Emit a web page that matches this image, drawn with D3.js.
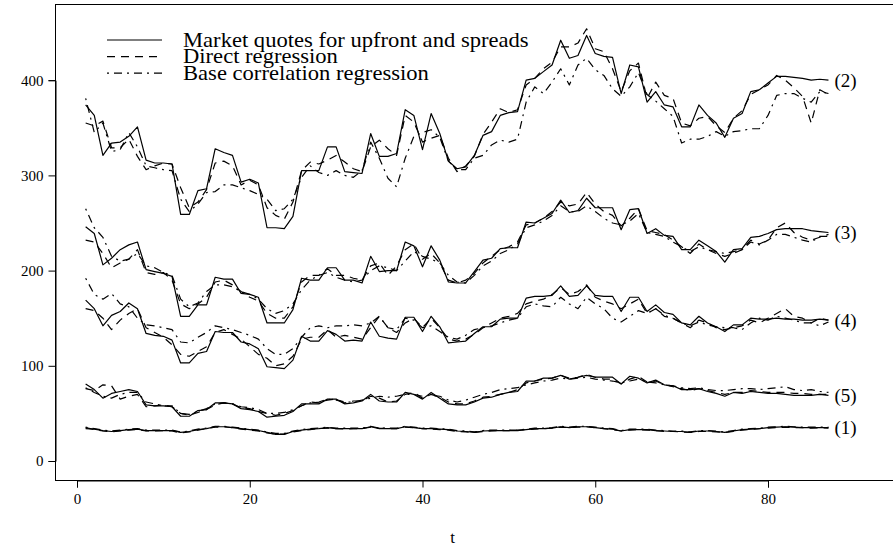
<!DOCTYPE html>
<html>
<head>
<meta charset="utf-8">
<script src="https://cdn.jsdelivr.net/npm/d3@7"></script>
<style>
  html, body { margin: 0; padding: 0; background: #fff; }
  svg { display: block; }
  text { font-family: "Liberation Serif", "Times New Roman", serif; fill: #000; }
</style>
</head>
<body>
<svg id="chart" width="893" height="550"></svg>
<script>
// time index
const t = d3.range(1, 88);

// Tranche (2)
const g2Market = [374,363,321,334,335,341,351,316,313,313, 312,259,259,284,286,328,324,321,293,296,
  292,245,245,244,257,305,305,305,330,330, 304,303,302,344,320,320,323,369,363,327,
  365,344,315,307,309,321,342,346,363,366, 367,400,402,409,416,442,423,426,447,428,
  425,424,386,416,414,377,388,374,372,351, 351,374,363,355,340,360,365,388,390,397,
  404,404,403,402,400,401,400];
const g2Direct = [355,352,357,329,329,338,320,306,310,313, 312,287,266,272,285,313,315,310,290,295,
  290,266,258,254,272,305,314,312,316,321, 314,307,304,330,337,328,321,363,356,335,
  339,342,318,304,310,320,343,356,370,366, 369,395,402,412,419,435,435,439,454,433,
  430,412,388,410,418,381,398,384,381,355, 352,360,362,352,345,360,368,385,390,395,
  405,400,392,383,355,390,385];
const g2BaseCorr = [381,345,355,325,327,345,330,310,308,306, 305,275,262,270,282,283,290,290,287,284,
  280,275,263,265,275,298,310,303,300,305, 300,298,305,335,318,297,288,318,341,345,
  348,340,315,306,306,318,321,332,337,335, 338,377,393,386,398,412,395,416,423,411,
  405,391,383,393,408,385,378,370,362,334, 338,338,341,346,341,346,347,349,349,363,
  384,386,386,381,377,388,386];

// Tranche (3)
const g3Market = [246,239,206,213,222,227,230,201,199,197, 194,152,152,164,164,193,191,191,176,175,
  172,145,145,145,159,192,190,190,203,203, 190,190,187,215,199,200,200,230,226,204,
  226,211,188,187,187,199,211,213,223,224, 224,251,250,255,260,274,261,263,276,266,
  266,266,243,264,265,239,244,237,236,222, 222,232,226,220,209,222,223,235,236,239,
  243,244,244,244,242,241,240];
const g3Direct = [232,230,218,203,208,212,222,198,196,198, 190,165,160,165,172,188,190,185,178,172,
  168,155,150,150,162,188,195,195,202,195, 195,192,190,205,208,195,205,222,228,212,
  218,208,190,187,190,197,208,215,222,225, 230,248,250,255,262,272,268,270,282,270,
  262,258,247,255,265,242,240,238,232,225, 218,228,222,218,215,218,222,232,228,232,
  245,250,240,235,232,235,238];
const g3BaseCorr = [265,245,235,215,210,212,218,205,203,198, 195,170,162,166,178,185,185,183,178,175,
  170,160,155,158,165,180,190,195,198,193, 190,188,190,200,205,203,200,210,220,215,
  212,208,195,188,187,195,205,210,218,222, 228,245,248,252,258,268,262,262,268,262,
  255,250,248,252,260,240,238,236,230,225, 220,225,222,220,218,220,222,230,227,232,
  238,238,235,232,230,236,236];

// Tranche (4)
const g4Market = [169,160,142,153,157,166,160,134,132,131, 127,103,103,113,115,136,135,135,125,123,
  118,99,98,97,106,131,126,126,137,133, 126,127,126,146,131,129,128,151,151,136,
  152,141,124,125,126,134,141,141,149,150, 150,171,173,173,174,184,173,174,184,174,
  173,173,157,172,172,157,164,156,154,145, 143,152,145,141,136,143,143,150,149,149,
  150,149,149,148,148,149,148];
const g4Direct = [160,158,150,138,148,155,160,140,135,130, 122,112,110,115,120,135,138,133,128,120,
  112,108,100,102,110,128,130,130,138,130, 132,130,128,140,152,140,135,145,150,140,
  150,140,128,126,128,133,140,145,150,152, 155,165,168,170,175,182,175,178,185,172,
  168,165,160,165,170,155,160,152,150,145, 140,148,145,140,138,140,142,148,145,150,
  155,160,152,150,145,150,148];
const g4BaseCorr = [192,175,170,176,165,162,150,143,142,140, 138,125,124,130,135,142,140,138,135,132,
  128,118,112,112,118,130,140,142,140,142, 142,143,142,145,152,140,138,150,148,140,
  142,136,130,128,132,138,140,142,145,148, 150,162,165,163,162,172,165,160,172,165,
  160,150,146,152,158,155,160,153,150,145, 142,146,143,141,140,140,138,145,150,148,
  152,150,148,145,145,142,146];

// Tranche (5)
const g5Market = [81,75,66,71,73,75,73,59,58,58, 57,47,47,53,54,61,61,60,55,54,
  52,46,47,48,52,60,60,60,65,65, 60,61,63,70,63,62,62,72,70,65,
  72,66,60,59,59,62,66,67,70,72, 73,84,84,87,87,90,86,88,90,88,
  88,88,81,89,87,82,85,80,79,75, 75,76,73,71,68,72,71,73,72,71,
  71,70,69,69,69,70,69];
const g5Direct = [76,74,80,79,65,68,70,57,58,59, 57,50,48,51,54,59,61,60,56,55,
  52,50,48,50,53,58,62,61,64,65, 61,63,63,68,66,62,63,70,72,66,
  70,67,62,60,60,63,67,68,70,72, 75,82,84,86,87,90,87,88,91,88,
  86,86,81,86,89,83,84,80,78,76, 74,76,74,72,70,72,72,74,73,72,
  72,72,71,71,70,70,70];
const g5BaseCorr = [77,72,68,66,70,72,72,62,60,58, 58,50,49,52,55,60,61,60,57,56,
  54,50,50,51,54,58,61,62,65,64, 62,62,64,66,68,67,68,70,70,68,
  69,68,64,62,64,67,70,72,75,76, 77,80,82,84,85,87,86,87,88,86,
  85,84,82,84,86,83,82,80,79,77, 76,77,75,74,74,75,76,76,75,76,
  77,78,75,74,75,73,72];

// Tranche (1)
const g1Market = [34,33.5,32,31,32,33,33.5,32,32,32, 32,30,31,33,34,36,36,35,34,33,
  32,30,28,28,31,32.5,33.5,34,35,34, 34,34,34,36,34,34,34,36,35,34,
  34,33.5,33,31.5,31,30,31.5,32,32,32, 32,33,34,34,34.5,36,35,36,36,35,
  34,33.5,31.5,33,33,33,32,31.5,31,31, 30,31.5,31.5,31,30,31.5,33,33.5,34,35,
  35.5,36,35.5,35,35,35,35];
const g1Direct = [35,33,31.5,30.5,31.5,32.5,33,31.5,31.5,32, 31.5,29.5,30.5,32.5,34,35.5,36,35,33.5,32.5,
  31.5,29.5,28,28.5,30.5,32,33,34,34.5,34, 33.5,34,34,35.5,34.5,34,34,35.5,35,34,
  33.5,33,32.5,31,30.5,30,31,31.5,32,32, 32.5,33,33.5,34,34.5,35.5,35,35.5,36,35,
  34,33,31.5,32.5,33,32.5,32,31,31,30.5, 30,31,31,30.5,30,31,32.5,33,34,34.5,
  35,35.5,35,35,34.5,35,34.5];
const g1BaseCorr = [35.5,34,32.5,31.5,32.5,33.5,34,32.5,32.5,32.5, 32.5,30.5,31.5,33.5,34.5,36.5,36.5,35.5,34.5,33.5,
  32.5,30.5,29,29,31.5,33,34,34.5,35.5,34.5, 34.5,34.5,34.5,36.5,34.5,34.5,34.5,36.5,35.5,34.5,
  34.5,34,33.5,32,31.5,30.5,32,32.5,32.5,32.5, 32.5,33.5,34.5,34.5,35,36.5,35.5,36.5,36.5,35.5,
  34.5,34,32,33.5,33.5,33.5,32.5,32,31.5,31.5, 30.5,32,32,31.5,30.5,32,33.5,34,34.5,35.5,
  36,36.5,36,35.5,35.5,35.5,35.5];

const groups = [
  { label: "(2)", series: [g2Market, g2Direct, g2BaseCorr] },
  { label: "(3)", series: [g3Market, g3Direct, g3BaseCorr] },
  { label: "(4)", series: [g4Market, g4Direct, g4BaseCorr] },
  { label: "(5)", series: [g5Market, g5Direct, g5BaseCorr] },
  { label: "(1)", series: [g1Market, g1Direct, g1BaseCorr] }
];

const legendLabels = ["Market quotes for upfront and spreads", "Direct regression", "Base correlation regression"];
const dashes = [null, "8,6", "2,5,8,5"];
const xTicks = [0, 20, 40, 60, 80];
const yTicks = [0, 100, 200, 300, 400];

const svg = d3.select("#chart");

// plotting region
const box = { left: 55, right: 893, top: 4, bottom: 480 };
const x = d3.scaleLinear().domain([0, 80]).range([77, 768]);
const y = d3.scaleLinear().domain([0, 400]).range([461, 80.2]);

// frame
svg.append("rect")
  .attr("x", box.left + 0.5).attr("y", box.top + 0.5)
  .attr("width", box.right - box.left + 10).attr("height", box.bottom - box.top)
  .attr("fill", "none").attr("stroke", "#000").attr("stroke-width", 1);

// axes
const xAxis = svg.append("g")
  .attr("transform", `translate(0,${box.bottom + 0.5})`)
  .call(d3.axisBottom(x).tickValues(xTicks).tickSize(7).tickPadding(6).tickFormat(d3.format("d")));
const yAxis = svg.append("g")
  .attr("transform", `translate(${box.left + 0.5},0)`)
  .call(d3.axisLeft(y).tickValues(yTicks).tickSize(7).tickPadding(5).tickFormat(d3.format("d")));
[xAxis, yAxis].forEach(a => {
  a.select(".domain").attr("stroke", "#000");
  a.selectAll(".tick line").attr("stroke", "#000");
  a.selectAll(".tick text").style("font-family", '"Liberation Serif", serif').style("font-size", "15px").attr("fill", "#000");
});

svg.append("text").attr("x", x(43.5)).attr("y", 543)
  .attr("text-anchor", "middle").style("font-size", "17px").text("t");

// series
const line = d3.line().x((d, i) => x(t[i])).y(d => y(d));
groups.forEach(g => {
  g.series.forEach((s, k) => {
    svg.append("path")
      .datum(s)
      .attr("d", line)
      .attr("fill", "none")
      .attr("stroke", "#000")
      .attr("stroke-width", 1.2)
      .attr("stroke-linejoin", "round")
      .attr("stroke-dasharray", dashes[k]);
  });
  const last = g.series[0][g.series[0].length - 1];
  svg.append("text")
    .attr("x", x(t[t.length - 1]) + 6)
    .attr("y", y(last) + 6.5)
    .style("font-size", "19px")
    .text(g.label);
});

// legend: keys and a single multi-line label block (slightly widened face)
const legendY0 = 40, legendStep = 16.6, legendX = 183;
const legend = svg.append("g");
legendLabels.forEach((lab, k) => {
  legend.append("line")
    .attr("x1", 107).attr("x2", 162)
    .attr("y1", legendY0 + k * legendStep).attr("y2", legendY0 + k * legendStep)
    .attr("stroke", "#000").attr("stroke-width", 1.2)
    .attr("stroke-dasharray", dashes[k]);
});
legend.append("text")
  .attr("transform", `translate(${legendX},${legendY0 + 6.5}) scale(1.13,1)`)
  .style("font-size", "20px")
  .selectAll("tspan")
  .data(legendLabels)
  .join("tspan")
  .attr("x", 0)
  .attr("dy", (d, k) => k === 0 ? 0 : legendStep)
  .text(d => d);
</script>
</body>
</html>
